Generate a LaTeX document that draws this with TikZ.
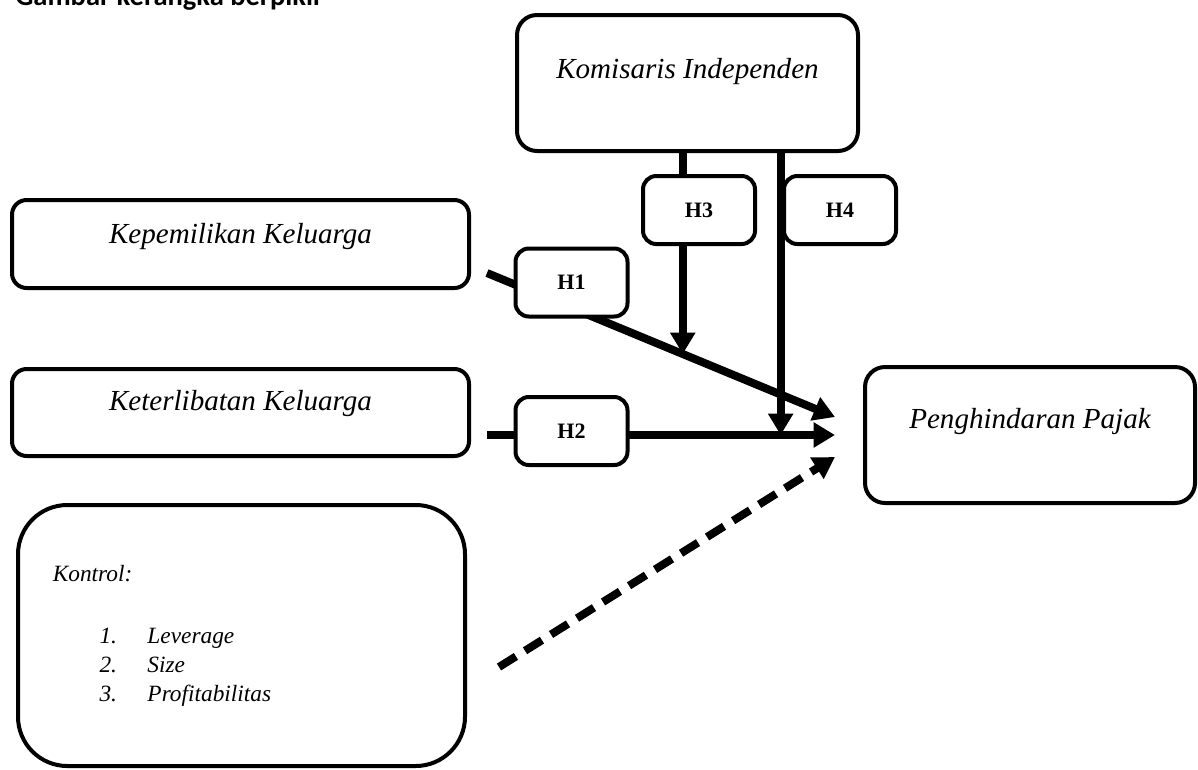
\documentclass[tikz,border=0pt]{standalone}
\usepackage{fontspec}
\setmainfont{Liberation Serif}
\newfontfamily\titlefont{Carlito}
\usetikzlibrary{arrows.meta}

\begin{document}
\begin{tikzpicture}[x=0.75pt,y=-0.75pt,
	varbox/.style={draw,line width=3pt,rounded corners=11pt,fill=white,font=\itshape\fontsize{21.8}{26}\selectfont},
	hbox/.style={draw,line width=3pt,rounded corners=10pt,fill=white,minimum width=84pt,minimum height=51pt,font=\bfseries\fontsize{16.5}{20}\selectfont},
	tup/.style={text height=15pt,text depth=#1},
	link/.style={line width=6pt,-{Triangle[length=16pt,width=18pt]}}]
	
	\useasboundingbox (0,0) rectangle (1198,769);
	
	% Title (cut off at the top)
	\node[anchor=base west,inner sep=0pt,font=\titlefont\bfseries\fontsize{21.4}{24}\selectfont] (title) at (15,5) {Gambar kerangka berpikir};
	
	% Variables
	\node[varbox,rounded corners=15pt,minimum width=255.75pt,minimum height=102pt,tup=22.5pt] (kom) at (687.5,83) {Komisaris Independen};
	\node[varbox,minimum width=342.75pt,minimum height=66pt,tup=16.5pt] (kep) at (240.5,244) {Kepemilikan Keluarga};
	\node[varbox,minimum width=342.75pt,minimum height=65.25pt,tup=18.75pt] (ket) at (240.5,412.5) {Keterlibatan Keluarga};
	\node[varbox,rounded corners=15pt,minimum width=247.5pt,minimum height=102pt,tup=25.5pt] (pen) at (1030,435) {Penghindaran Pajak};
	
	% Control variables
	\node[varbox,rounded corners=37pt,minimum width=335.25pt,minimum height=195.75pt,text width=283pt,align=left,font=\itshape\fontsize{17.5}{21.75}\selectfont] (kon) at (241.5,635.5)
	{Kontrol:\\[24.75pt]
		\hspace*{35pt}\makebox[36pt][l]{1.}Leverage\\
		\hspace*{35pt}\makebox[36pt][l]{2.}Size\\
		\hspace*{35pt}\makebox[36pt][l]{3.}Profitabilitas};
	
	% Paths
	\draw[link] ([shift={(16,29)}]kep.east) -- coordinate[pos=0.5625] (m1) ([shift={(-28,-18)}]pen.west);
	\draw[link] ([shift={(16,22.5)}]ket.east) -- coordinate[pos=0.8438] (m2) ([shift={(-28,0)}]pen.west);
	\draw[link] (kom.south -| m1) -- (m1);
	\draw[link] (kom.south -| m2) -- (m2);
	\draw[link,dash pattern=on 15pt off 8pt] ([shift={(32,31.5)}]kon.east) -- ([shift={(-28,22)}]pen.west);
	
	% Hypotheses
	\foreach \n/\x/\y in {1/571.5/282.5,2/571.5/431,3/699/210,4/840/210}
	\node[hbox] (h\n) at (\x,\y) {H\n};
\end{tikzpicture}
\end{document}
